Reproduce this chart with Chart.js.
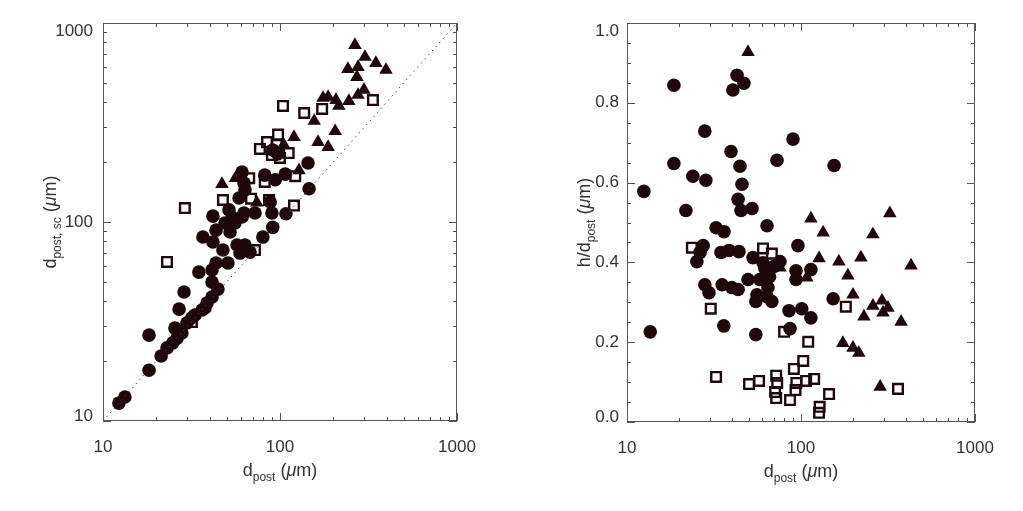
<!DOCTYPE html>
<html><head><meta charset="utf-8">
<script src="https://cdn.jsdelivr.net/npm/chart.js@4.4.0/dist/chart.umd.min.js"></script>
<style>
html,body{margin:0;padding:0;background:#fff;}
#wrap{position:relative;width:1023px;height:511px;overflow:hidden;}
#c1{position:absolute;left:0;top:0;}
#c2{position:absolute;left:511px;top:0;}
</style></head><body>
<div id="wrap"><canvas id="c1" width="511" height="511"></canvas><canvas id="c2" width="512" height="511"></canvas></div>
<script>
// ---------- data ----------
const xTickLabels = ['10', '100', '1000'];
const yLogTickLabels = ['10', '100', '1000'];
const yLinTickLabels = ['0.0', '0.2', '0.4', '0.6', '0.8', '1.0'];

const leftCircles = [[12.3,12.3],[13.3,13.2],[18.2,18.0],[18.2,27],[21.3,21.2],[23,23.3],[24.8,24.7],[26.2,26.1],[27.9,27.7],[25.5,29.3],[28.7,44.5],[26.9,36.5],[29.8,31.1],[31.8,33],[33.1,34.1],[36.3,36.1],[37.7,37],[38.7,39.2],[41.3,42],[44.6,46],[41.3,49.9],[34.8,56],[41.3,57.4],[43.5,62.2],[50.8,62.2],[47.6,72.3],[59.4,69.8],[67.7,70.6],[57.2,76.6],[63.4,76.6],[41.8,79.3],[36.7,84.1],[43.5,91],[52.2,89.1],[48.9,98.9],[55.6,98.9],[54,105],[61,106],[41.8,107],[51.5,115],[62.6,111],[72.2,111],[80,84],[91,94],[90,111],[108,110],[88,126],[58.7,132],[63.4,145],[62.6,157],[61,178],[82,172],[94,163],[107,174],[144,198],[146,147],[91,230],[97,220]];
const leftTriangles = [[265,775],[302,675],[242,587],[276,601],[348,629],[397,581],[272,535],[298,461],[276,435],[175,420],[187,425],[207,410],[215,383],[245,405],[156,322],[205,286],[164,252],[187,238],[120,267],[105,244],[128,182],[47,155],[56,166],[74,125]];
const leftSquares = [[104,383],[137,353],[173,370],[335,410],[97.5,275],[84.5,252],[77,233],[96,244],[112,222],[90,217],[100,210],[122,170],[120,121],[67,166],[82,159],[47.6,129],[68.6,131],[86.7,129],[29,117.5],[23,63],[72.2,72.3],[31.8,31.4]];
const identityLine = [[10,10],[1000,1000]];

const rightCircles = [[18.6,0.844],[42.9,0.869],[47,0.849],[40.6,0.832],[28,0.729],[90,0.709],[39.6,0.678],[72.8,0.656],[18.6,0.648],[44.6,0.641],[155,0.643],[23.9,0.616],[28.4,0.606],[45.8,0.596],[12.5,0.578],[43.5,0.558],[21.8,0.530],[45.2,0.530],[52.3,0.535],[63.8,0.492],[32.5,0.487],[36.1,0.477],[96,0.442],[27.4,0.442],[26.3,0.425],[25.2,0.402],[34.7,0.425],[38.6,0.430],[44,0.427],[53,0.412],[60.5,0.399],[75.7,0.402],[93.6,0.379],[114,0.382],[93.6,0.357],[49.6,0.357],[58,0.357],[66,0.364],[64.6,0.337],[55.8,0.319],[63.8,0.314],[55,0.302],[68,0.302],[28,0.344],[29.6,0.324],[35.2,0.344],[40,0.337],[43.5,0.332],[153,0.309],[85.3,0.279],[101,0.284],[114,0.261],[86.5,0.234],[36,0.241],[55,0.219],[13.6,0.226],[62,0.385],[70,0.39]];
const rightTriangles = [[49.6,0.927],[114,0.510],[134,0.475],[259,0.470],[324,0.523],[127,0.410],[165,0.402],[221,0.412],[429,0.392],[108,0.362],[186,0.367],[75.7,0.387],[199,0.319],[259,0.291],[292,0.304],[296,0.274],[316,0.286],[230,0.264],[376,0.251],[174,0.198],[199,0.186],[215,0.173],[285,0.088]];
const rightSquares = [[23.6,0.437],[60.5,0.435],[68,0.422],[30.3,0.284],[181,0.289],[80,0.226],[110,0.201],[103,0.153],[91,0.133],[119,0.108],[107,0.103],[94,0.098],[93,0.080],[86.5,0.055],[361,0.083],[145,0.070],[128,0.038],[127,0.023],[32.5,0.113],[50.3,0.095],[57.4,0.103],[72,0.116],[73,0.098],[71,0.075],[72,0.060]];

// ---------- styling ----------
const INK = '#1e080a';
const AXIS = '#555555';
const TEXT = '#333333';
const FONT = '"Liberation Sans Narrow", "Liberation Sans", Arial, sans-serif';

const pts = a => a.map(p => ({x: p[0], y: p[1]}));

function circleSet(d){ return {data: pts(d), pointStyle:'circle', pointRadius:6.8, pointBackgroundColor:INK, pointBorderWidth:0, showLine:false}; }
function triSet(d){ return {data: pts(d), pointStyle:'triangle', pointRadius:7.8, pointBackgroundColor:INK, pointBorderWidth:0, showLine:false}; }
function sqSet(d){ return {data: pts(d), pointStyle:'rect', pointRadius:6.8, pointBackgroundColor:'rgba(255,255,255,0)', pointBorderColor:INK, pointBorderWidth:2.4, showLine:false}; }

function logTicks(){
  const t = [];
  for (const d of [10,100]) for (let k=1;k<=9;k++) t.push({v:k*d, major:k===1});
  t.push({v:1000, major:true});
  return t;
}
function linTicks(){
  const t = [];
  for (let i=0;i<=20;i++) t.push({v:i*0.05, major:i%4===0});
  return t;
}

function drawRich(ctx, parts, cx, cy, vertical){
  ctx.save();
  ctx.translate(cx, cy);
  if (vertical) ctx.rotate(-Math.PI/2);
  let total = 0;
  const w = parts.map(p => { ctx.font = (p.it?'italic ':'') + p.s + 'px ' + FONT; const m = ctx.measureText(p.t).width; total += m; return m; });
  let x = -total/2;
  ctx.fillStyle = TEXT;
  ctx.textBaseline = 'alphabetic';
  ctx.textAlign = 'left';
  parts.forEach((p,i) => { ctx.font = (p.it?'italic ':'') + p.s + 'px ' + FONT; ctx.fillText(p.t, x, p.dy||0); x += w[i]; });
  ctx.restore();
}

function framePlugin(xLabels, yTicksFn, yLabelFn, xTitle, yTitle, yTitleX, yLabelGap){
  return {
    id: 'frame',
    afterDatasetsDraw(chart){
      const ctx = chart.ctx, a = chart.chartArea, sx = chart.scales.x, sy = chart.scales.y;
      ctx.save();
      ctx.strokeStyle = AXIS; ctx.lineWidth = 1;
      ctx.strokeRect(a.left+0.5, a.top+0.5, a.right-a.left-1, a.bottom-a.top-1);
      ctx.beginPath();
      for (const t of logTicks()){
        const px = Math.round(sx.getPixelForValue(t.v))+0.5, L = t.major?8:4;
        ctx.moveTo(px, a.bottom); ctx.lineTo(px, a.bottom-L);
        ctx.moveTo(px, a.top); ctx.lineTo(px, a.top+L);
      }
      for (const t of yTicksFn()){
        const py = Math.round(sy.getPixelForValue(t.v))+0.5, L = t.major?8:4;
        ctx.moveTo(a.left, py); ctx.lineTo(a.left+L, py);
        ctx.moveTo(a.right, py); ctx.lineTo(a.right-L, py);
      }
      ctx.stroke();
      ctx.fillStyle = TEXT;
      ctx.font = '17px ' + FONT;
      ctx.textAlign = 'center'; ctx.textBaseline = 'middle';
      xLabels.forEach(l => { ctx.fillText(l, sx.getPixelForValue(parseFloat(l)), a.bottom+26); });
      ctx.textAlign = 'right';
      yLabelFn().forEach(l => {
        let py = sy.getPixelForValue(parseFloat(l));
        py = Math.min(Math.max(py, a.top+8), a.bottom-5);
        ctx.fillText(l, a.left-yLabelGap, py);
      });
      ctx.restore();
      drawRich(ctx, xTitle, (a.left+a.right)/2, a.bottom+55, false);
      drawRich(ctx, yTitle, yTitleX, (a.top+a.bottom)/2, true);
    }
  };
}

const xTitleParts = [{t:'d',s:18},{t:'post',s:12,dy:5},{t:' (',s:18},{t:'μ',s:18,it:true},{t:'m)',s:18}];
const yLeftTitle = [{t:'d',s:18},{t:'post, sc',s:12,dy:5},{t:' (',s:18},{t:'μ',s:18,it:true},{t:'m)',s:18}];
const yRightTitle = [{t:'h/d',s:18},{t:'post',s:12,dy:5},{t:' (',s:18},{t:'μ',s:18,it:true},{t:'m)',s:18}];

const baseOptions = {
  responsive:false, animation:false, devicePixelRatio:1,
  plugins:{legend:{display:false}, tooltip:{enabled:false}},
  events: []
};

new Chart(document.getElementById('c1'), {
  type:'scatter',
  data:{datasets:[
    {data: pts(identityLine), type:'line', borderColor:'#444', borderWidth:1, borderDash:[1.5,4], pointRadius:0, fill:false},
    circleSet(leftCircles), triSet(leftTriangles), sqSet(leftSquares)
  ]},
  options:{
    ...baseOptions,
    layout:{padding:{left:103, right:54, top:23, bottom:90}},
    scales:{
      x:{type:'logarithmic', min:10, max:1000, display:false},
      y:{type:'logarithmic', min:10, max:1000, display:false}
    }
  },
  plugins:[framePlugin(xTickLabels, logTicks, () => yLogTickLabels, xTitleParts, yLeftTitle, 56, 10)]
});

new Chart(document.getElementById('c2'), {
  type:'scatter',
  data:{datasets:[circleSet(rightCircles), triSet(rightTriangles), sqSet(rightSquares)]},
  options:{
    ...baseOptions,
    layout:{padding:{left:116, right:48, top:23, bottom:89}},
    scales:{
      x:{type:'logarithmic', min:10, max:1000, display:false},
      y:{type:'linear', min:0, max:1.0, display:false}
    }
  },
  plugins:[framePlugin(xTickLabels, linTicks, () => yLinTickLabels, xTitleParts, yRightTitle, 79, 8)]
});
</script>
</body></html>
